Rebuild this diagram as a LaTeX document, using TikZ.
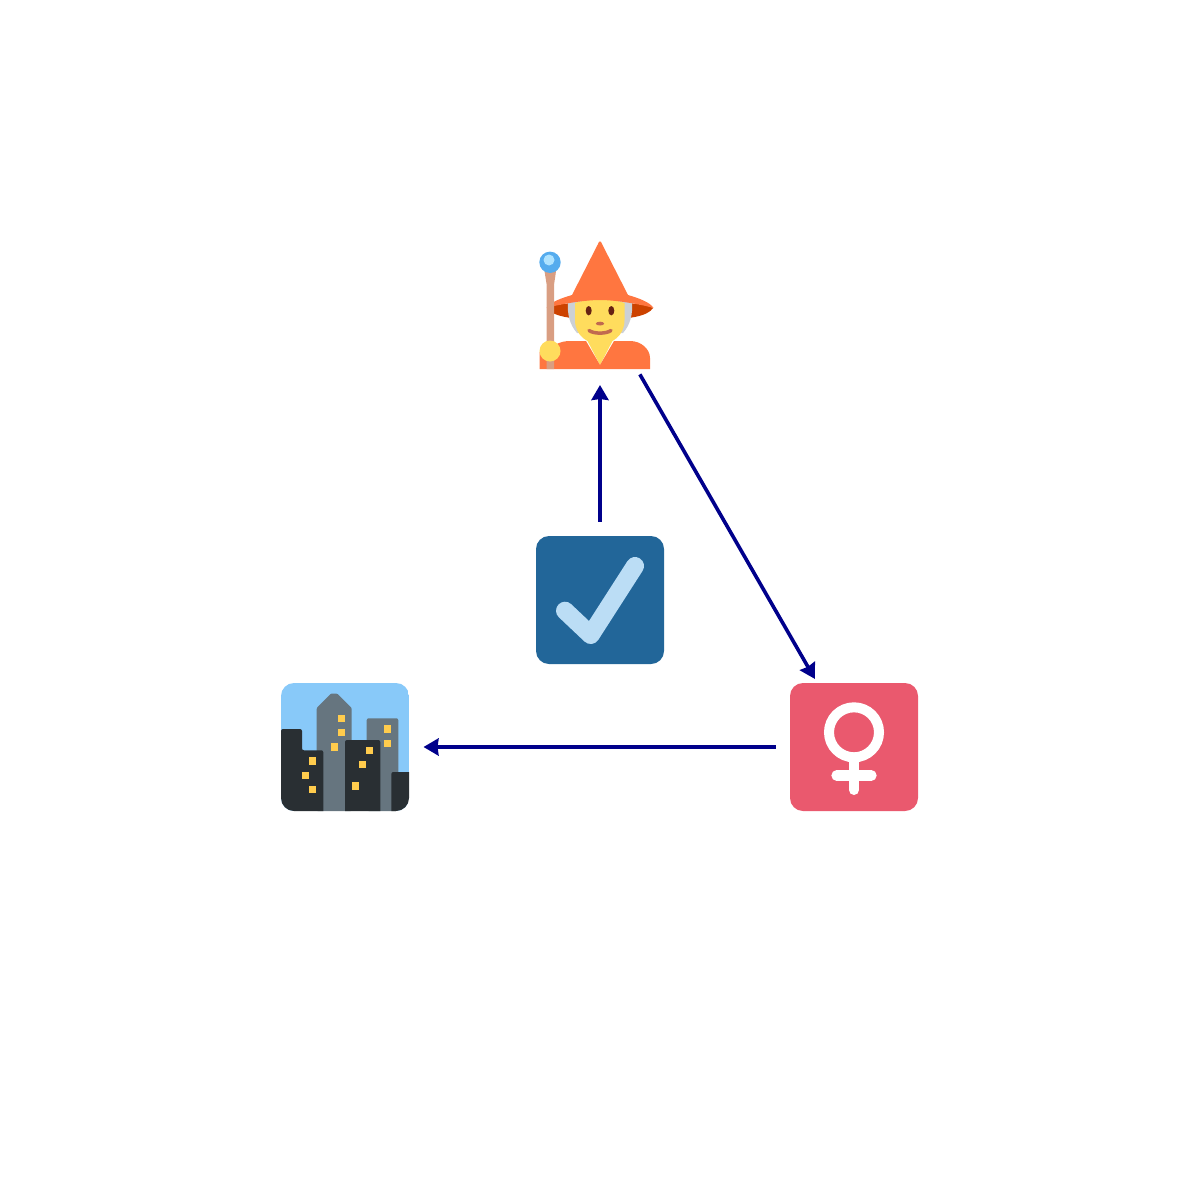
\documentclass[tikz,border=0pt]{standalone}
\usetikzlibrary{arrows.meta}
\definecolor{linkblue}{HTML}{00008B}
\definecolor{checkblue}{HTML}{226699}
\definecolor{checklight}{HTML}{BBDDF5}
\definecolor{femalered}{HTML}{EA596E}
\definecolor{skyblue}{HTML}{88C9F9}
\definecolor{towergray}{HTML}{66757F}
\definecolor{blockdark}{HTML}{292F33}
\definecolor{windowyellow}{HTML}{FFCC4D}
\definecolor{hatorange}{HTML}{FF7640}
\definecolor{brimdark}{HTML}{CC4200}
\definecolor{skin}{HTML}{FFDC5D}
\definecolor{hairgray}{HTML}{CCD0D5}
\definecolor{staffbrown}{HTML}{D99E82}
\definecolor{orbblue}{HTML}{55ACEE}
\definecolor{orblight}{HTML}{AEE3FF}
\definecolor{eyebrown}{HTML}{662113}
\definecolor{mouthbrown}{HTML}{C1694F}
\tikzset{
  hub/.style={circle,minimum size=15.7mm,inner sep=0pt,outer sep=0pt},
  link/.style={draw=linkblue,line width=0.36mm,-{Stealth[length=1.5mm,width=1.7mm,inset=0.1mm]}},
  window/.style={fill=windowyellow,minimum size=0.72mm,inner sep=0pt,outer sep=0pt}
}
\begin{document}
\begin{tikzpicture}[x=0.1mm,y=-0.1mm]
\useasboundingbox (0,0) rectangle (1200,1200);
% ballot box
\fill[checkblue,rounded corners=1.3mm] (536,536) rectangle (664,664);
\draw[checklight,line width=1.8mm,line cap=round,line join=round] (565,610.7) -- (590.7,635) -- (635,566);
% female sign
\fill[femalered,rounded corners=1.3mm] (790,683) rectangle (918,811);
\draw[white,line width=1mm] (854,732.3) circle (25);
\draw[white,line width=1mm,line cap=round] (854,762) -- (854,790);
\draw[white,line width=1.07mm,line cap=round] (836.7,775.5) -- (871.3,775.5);
% city
\begin{scope}
\clip[rounded corners=1.3mm] (281,683) rectangle (409,811);
\fill[skyblue] (281,683) rectangle (409,811);
\fill[towergray,rounded corners=0.1mm] (316.7,811) -- (316.7,708) -- (331,693.5) -- (337,693.5) -- (351.7,708) -- (351.7,811) -- cycle;
\fill[towergray,rounded corners=0.2mm] (366.7,811) -- (366.7,718.3) -- (398.3,718.3) -- (398.3,811) -- cycle;
\fill[blockdark,rounded corners=0.2mm] (281,815) -- (281,729) -- (302,729) -- (302,750.3) -- (323.3,750.3) -- (323.3,815) -- cycle;
\fill[blockdark,rounded corners=0.2mm] (345,815) -- (345,740) -- (380.3,740) -- (380.3,815) -- cycle;
\fill[blockdark,rounded corners=0.2mm] (391.3,815) -- (391.3,772) -- (413,772) -- (413,815) -- cycle;
\end{scope}
\foreach \wx/\wy [count=\wn] in {341.3/718.3,341.3/732.7,334.3/747,387.3/729,387.3/743.3,369.7/750.3,362.7/764.7,355.7/786,312.7/761,305.7/775.3,312.7/789.7}
  \node[window] (win\wn) at (\wx,\wy) {};
% mage
\fill[brimdark] (547,308) .. controls (552,316) and (570,319.5) .. (600,319.5) .. controls (630,319.5) and (648,316) .. (653,308) .. controls (640,300) and (560,300) .. (547,308) -- cycle;
\fill[hairgray] (568,301) -- (632,301) .. controls (633,315) and (630,325) .. (623,333) -- (577,333) .. controls (570,325) and (567,315) .. (568,301) -- cycle;
\fill[skin] (586,338) -- (614,338) -- (600,365) -- cycle;
\fill[hatorange] (539.5,369) -- (539.5,352) -- (555,345) .. controls (560,342) and (565,341) .. (570,341) -- (586,341) -- (600,365) -- (614,341) -- (630,341) .. controls (641,341) and (650,349) .. (650,358) -- (650,369) -- cycle;
\fill[skin] (575,303) .. controls (590,298) and (610,298) .. (624.5,303) -- (624.5,320) .. controls (624.5,336) and (612,344) .. (600,344) .. controls (588,344) and (575,336) .. (575,320) -- cycle;
\fill[hatorange] (546.5,308) .. controls (550,302) and (562,298) .. (572,295) -- (598,244) .. controls (599,240.5) and (601,240.5) .. (602,244) -- (628,295) .. controls (638,298) and (650,302) .. (653.5,308) .. controls (640,304) and (615,300) .. (600,300) .. controls (585,300) and (560,304) .. (546.5,308) -- cycle;
\fill[eyebrown] (588.7,310.7) ellipse (3 and 4.7);
\fill[eyebrown] (611.3,310.7) ellipse (3 and 4.7);
\fill[mouthbrown] (600,323.6) ellipse (4.2 and 1.9);
\draw[mouthbrown,line width=0.35mm,line cap=round] (589,330.5) .. controls (594,334) and (606,334) .. (611,330.5);
\fill[staffbrown] (546.7,369) -- (546.7,285) -- (544,268) -- (556.5,268) -- (554,285) -- (554,369) -- cycle;
\fill[orbblue] (550,262.3) circle (10.7);
\fill[orblight] (549,260) circle (5.5);
\fill[skin] (550,351) circle (10.5);
% connectors
\node[hub,minimum size=16mm] (mage) at (600,305) {};
\node[hub] (ballot) at (600,600) {};
\node[hub] (female) at (854,747) {};
\node[hub] (city) at (345,747) {};
\draw[link] (ballot) -- (mage);
\draw[link] (mage) -- (female);
\draw[link] (female) -- (city);
\end{tikzpicture}
\end{document}
